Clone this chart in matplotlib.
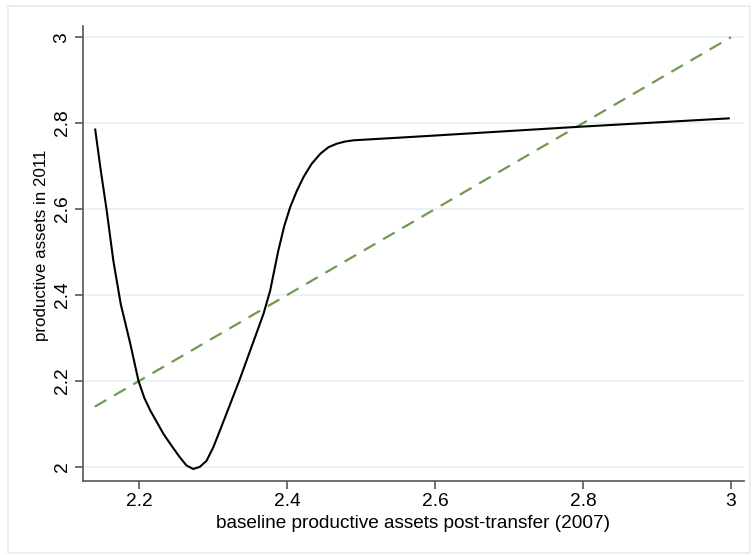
import matplotlib.pyplot as plt
from matplotlib.patches import Rectangle

# black fitted curve
curve_x = [2.1405, 2.148, 2.156, 2.165, 2.175, 2.188, 2.199, 2.207, 2.215,
           2.233, 2.245, 2.255, 2.264, 2.273, 2.282, 2.291, 2.300, 2.309,
           2.323, 2.336, 2.352, 2.368, 2.377, 2.388, 2.396, 2.404, 2.413,
           2.422, 2.433, 2.445, 2.456, 2.467, 2.478, 2.490, 2.580, 2.790,
           2.997]
curve_y = [2.785, 2.690, 2.597, 2.480, 2.379, 2.286, 2.200, 2.160, 2.131,
           2.076, 2.046, 2.022, 2.003, 1.995, 2.000, 2.014, 2.045, 2.084,
           2.146, 2.204, 2.280, 2.356, 2.410, 2.503, 2.560, 2.604, 2.642,
           2.674, 2.705, 2.729, 2.744, 2.752, 2.757, 2.760, 2.769, 2.791,
           2.811]

# 45 degree reference line
ref_x = [2.14, 3.0]
ref_y = [2.14, 3.0]

x_ticks = [2.2, 2.4, 2.6, 2.8, 3.0]
x_labels = ["2.2", "2.4", "2.6", "2.8", "3"]
y_ticks = [2.0, 2.2, 2.4, 2.6, 2.8, 3.0]
y_labels = ["2", "2.2", "2.4", "2.6", "2.8", "3"]

plt.rcParams["font.family"] = ["Liberation Sans", "DejaVu Sans"]

W, H = 753, 555
fig = plt.figure(figsize=(W / 100, H / 100), dpi=100)

# light outer frame like a Stata graph region
fig.patches.append(Rectangle((8 / W, 1 - 553 / H), 742 / W, 547 / H,
                             transform=fig.transFigure, fill=False,
                             edgecolor="#e4ecee", linewidth=1.2))

left, right, top, bottom = 83, 744, 26, 481
ax = fig.add_axes([left / W, 1 - bottom / H, (right - left) / W, (bottom - top) / H])

ax.plot(ref_x, ref_y, color="#6f9a50", linewidth=1.6, dashes=(6, 4))
ax.plot(curve_x, curve_y, color="black", linewidth=1.5)

ax.set_xlim(2.124, 3.0176)
ax.set_ylim(1.967, 3.026)

ax.set_xticks(x_ticks, x_labels)
ax.set_yticks(y_ticks, y_labels)
ax.tick_params(axis="both", direction="out", length=6, width=1.2,
               color="#555555", labelsize=13.8, pad=3)
ax.tick_params(axis="y", labelrotation=90)
for lab in ax.get_yticklabels():
    lab.set_va("center")

ax.grid(axis="y", color="#e8f0f2", linewidth=1.2)
ax.set_axisbelow(True)

for side in ["top", "right"]:
    ax.spines[side].set_visible(False)
for side in ["left", "bottom"]:
    ax.spines[side].set_color("#555555")
    ax.spines[side].set_linewidth(1.2)

fig.text(413 / W, 1 - 523 / H, "baseline productive assets post-transfer (2007)",
         ha="center", va="center", fontsize=13.7)
fig.text(42 / W, 1 - 245 / H, "productive assets in 2011",
         ha="center", va="center", rotation=90, fontsize=12.2)

fig.savefig("out.png", dpi=100)
